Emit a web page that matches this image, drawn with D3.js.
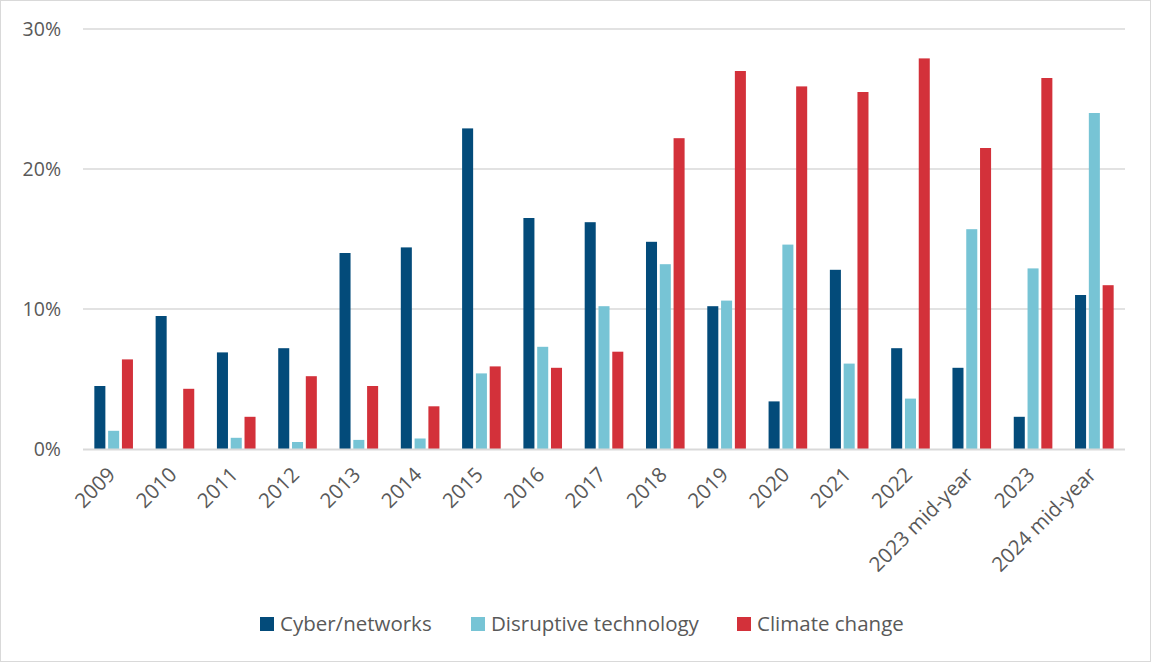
<!DOCTYPE html>
<html><head><meta charset="utf-8">
<script src="https://cdn.jsdelivr.net/npm/d3@7"></script>
<style>body{margin:0;background:#fff;} text{font-family:"Open Sans",sans-serif;fill:#595959;}</style>
</head><body>
<svg id="c" width="1151" height="662"></svg>
<script>
const categories = ["2009","2010","2011","2012","2013","2014","2015","2016","2017","2018","2019","2020","2021","2022","2023 mid-year","2023","2024 mid-year"];
const seriesNames = ["Cyber/networks","Disruptive technology","Climate change"];
const cyber = [4.5,9.5,6.9,7.2,14.0,14.4,22.9,16.5,16.2,14.8,10.2,3.4,12.8,7.2,5.8,2.3,11.0];
const disruptive = [1.3,0,0.8,0.5,0.65,0.75,5.4,7.3,10.2,13.2,10.6,14.6,6.1,3.6,15.7,12.9,24.0];
const climate = [6.4,4.3,2.3,5.2,4.5,3.05,5.9,5.8,6.95,22.2,27.0,25.9,25.5,27.9,21.5,26.5,11.7];
const yTicks = [0,10,20,30];
const colors = ["#034B7A","#77C4D5","#D3313A"];

const svg = d3.select("#c");
svg.append("rect").attr("x",0.5).attr("y",0.5).attr("width",1150).attr("height",661)
  .attr("fill","#fff").attr("stroke","#d9d9d9").attr("stroke-width",1);

const m = {l:83, r:1125, t:29, b:449};
const x = d3.scaleBand().domain(categories).range([m.l,m.r]).paddingInner(0.37).paddingOuter(0.185);
const y = d3.scaleLinear().domain([0,30]).range([m.b,m.t]);
const xs = d3.scaleBand().domain(seriesNames).range([0,x.bandwidth()]).paddingInner(0.2);

// grid
svg.append("g").selectAll("line").data(yTicks.filter(d=>d>0)).join("line")
  .attr("x1",m.l).attr("x2",m.r).attr("y1",d=>y(d)).attr("y2",d=>y(d))
  .attr("stroke","#d9d9d9").attr("stroke-width",1.3);

// y axis labels
const yAxis = d3.axisLeft(y).tickValues(yTicks).tickFormat(d=>d+"%").tickSize(0).tickPadding(0);
const ya = svg.append("g").attr("transform",`translate(61,0)`).call(yAxis);
ya.select(".domain").remove();
ya.selectAll("text").style("font-size","19.5px").attr("fill","#595959").attr("dy","0.35em");

const data = [cyber,disruptive,climate];
const g = svg.append("g");
seriesNames.forEach((s,si)=>{
  g.append("g").selectAll("rect").data(categories).join("rect")
    .attr("x",(c)=>x(c)+xs(s))
    .attr("width",xs.bandwidth())
    .attr("y",(c,i)=>y(data[si][i]))
    .attr("height",(c,i)=>y(0)-y(data[si][i]))
    .attr("fill",colors[si]);
});

// baseline
svg.append("line").attr("x1",m.l).attr("x2",m.r).attr("y1",m.b+0.5).attr("y2",m.b+0.5)
  .attr("stroke","#d9d9d9").attr("stroke-width",1.8);

// x axis
const xAxis = d3.axisBottom(x).tickSize(0).tickPadding(0);
const xa = svg.append("g").attr("transform",`translate(0,${m.b})`).call(xAxis);
xa.select(".domain").remove();
xa.selectAll("text").style("font-size","20.5px").attr("fill","#595959")
  .attr("text-anchor","end").attr("dy","0").attr("y",0)
  .attr("transform","translate(3,27) rotate(-45)");

// legend
const legX = [260,471,737];
const lg = svg.append("g");
seriesNames.forEach((s,i)=>{
  lg.append("rect").attr("x",legX[i]).attr("y",617).attr("width",14).attr("height",14).attr("fill",colors[i]);
  lg.append("text").attr("x",legX[i]+20).attr("y",624).attr("dy","0.35em").style("font-size","20.5px").text(s);
});
</script>
</body></html>
